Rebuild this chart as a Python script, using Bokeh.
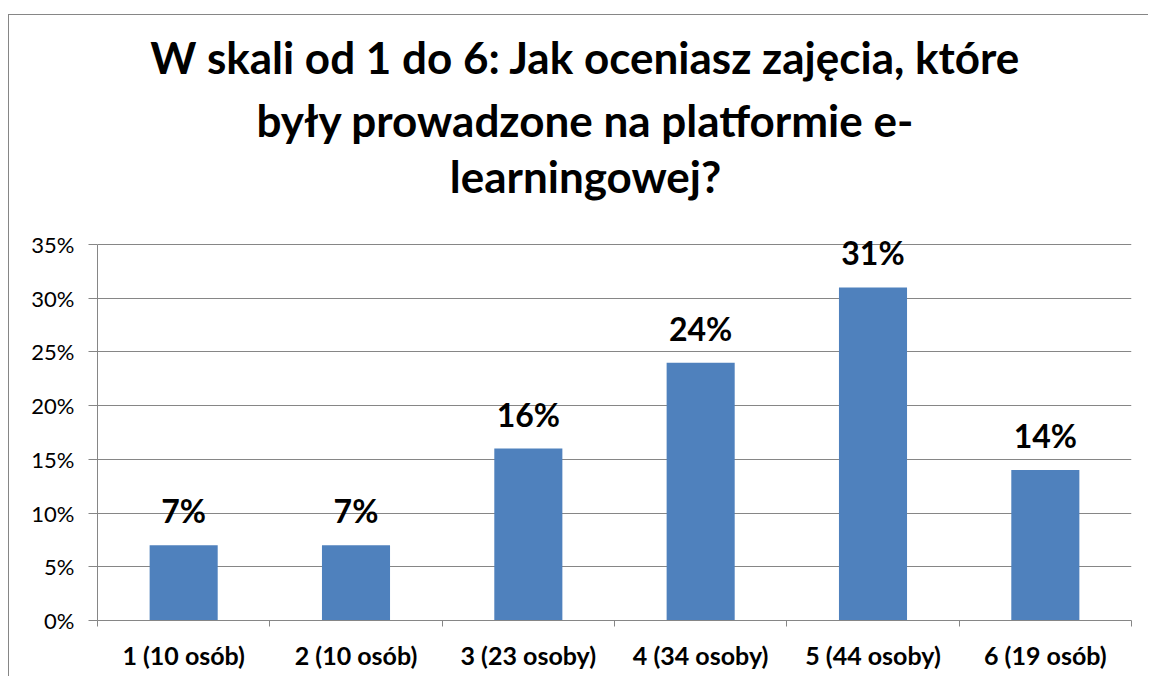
from bokeh.plotting import figure
from bokeh.models import (ColumnDataSource, Range1d, FixedTicker,
                          NumeralTickFormatter, LabelSet, Label)
from bokeh.core.properties import value
from bokeh.embed import file_html
from bokeh.resources import INLINE

TITLE_LINES = ["W skali od 1 do 6: Jak oceniasz zajęcia, które",
               "były prowadzone na platformie e-",
               "learningowej?"]
CATEGORIES = ["1 (10 osób)", "2 (10 osób)", "3 (23 osoby)",
              "4 (34 osoby)", "5 (44 osoby)", "6 (19 osób)"]
SHARES = [0.07, 0.07, 0.16, 0.24, 0.31, 0.14]
Y_TICKS = [0.0, 0.05, 0.10, 0.15, 0.20, 0.25, 0.30, 0.35]

FONT = "Lato"
GRAY = "#868686"
BAR = "#4F81BD"

n = len(CATEGORIES)
centers = [i + 0.5 for i in range(n)]
bounds = [float(i) for i in range(n + 1)]

src = ColumnDataSource(dict(
    x=centers,
    share=SHARES,
    label=[f"{round(s * 100)}%" for s in SHARES],
))

W, H = 1140, 662
FRAME_H = 605      # frame spans whole canvas height above the x axis
PLOT_H = 376       # pixel height of the 0..35% value area
y_top = Y_TICKS[-1] * FRAME_H / PLOT_H

p = figure(width=W, height=H,
           x_range=Range1d(0, n), y_range=Range1d(0, y_top),
           output_backend="svg", toolbar_location=None,
           min_border_left=88, min_border_right=18,
           min_border_top=0, min_border_bottom=57,
           margin=(14, 0, 0, 8),
           styles={"border-left": f"1px solid {GRAY}",
                   "border-top": f"1px solid {GRAY}"})
p.outline_line_color = None
p.background_fill_color = "white"
p.border_fill_color = "white"

p.vbar(x="x", top="share", width=0.395, source=src,
       fill_color=BAR, line_color=None)

# x axis
xa = p.xaxis[0]
xa.ticker = FixedTicker(ticks=centers, minor_ticks=bounds)
xa.major_label_overrides = {c: cat for c, cat in zip(centers, CATEGORIES)}
xa.major_tick_line_color = None
xa.minor_tick_line_color = GRAY
xa.minor_tick_out = 6
xa.minor_tick_in = 0
xa.axis_line_color = GRAY
xa.axis_line_width = 1
xa.major_label_text_font = FONT
xa.major_label_text_font_style = "bold"
xa.major_label_text_font_size = "25px"
xa.major_label_text_color = "black"
xa.major_label_standoff = 13

# y axis
ya = p.yaxis[0]
ya.ticker = FixedTicker(ticks=Y_TICKS)
ya.formatter = NumeralTickFormatter(format="0%")
ya.bounds = (0, Y_TICKS[-1])
ya.major_tick_line_color = GRAY
ya.major_tick_out = 9
ya.major_tick_in = 0
ya.minor_tick_line_color = None
ya.axis_line_color = GRAY
ya.major_label_text_font = FONT
ya.major_label_text_font_size = "22px"
ya.major_label_text_color = "black"
ya.major_label_standoff = 14

p.xgrid.grid_line_color = None
p.ygrid.grid_line_color = GRAY
p.ygrid.grid_line_width = 1
p.ygrid.ticker = FixedTicker(ticks=Y_TICKS)

labels = LabelSet(x="x", y="share", text="label", source=src,
                  text_align="center", text_baseline="alphabetic",
                  y_offset=22, text_font=value(FONT),
                  text_font_style="bold", text_font_size="32px",
                  text_color="black")
p.add_layout(labels)

# title (frame-relative screen units; y measured up from frame bottom)
title_y = [564, 501, 445]
for line, yb in zip(TITLE_LINES, title_y):
    p.add_layout(Label(x=488, y=yb, x_units="screen", y_units="screen",
                       text=line, text_align="center",
                       text_baseline="alphabetic",
                       text_font=FONT, text_font_style="bold",
                       text_font_size="44px", text_color="black"))

open("out.html", "w").write(file_html(p, INLINE))
